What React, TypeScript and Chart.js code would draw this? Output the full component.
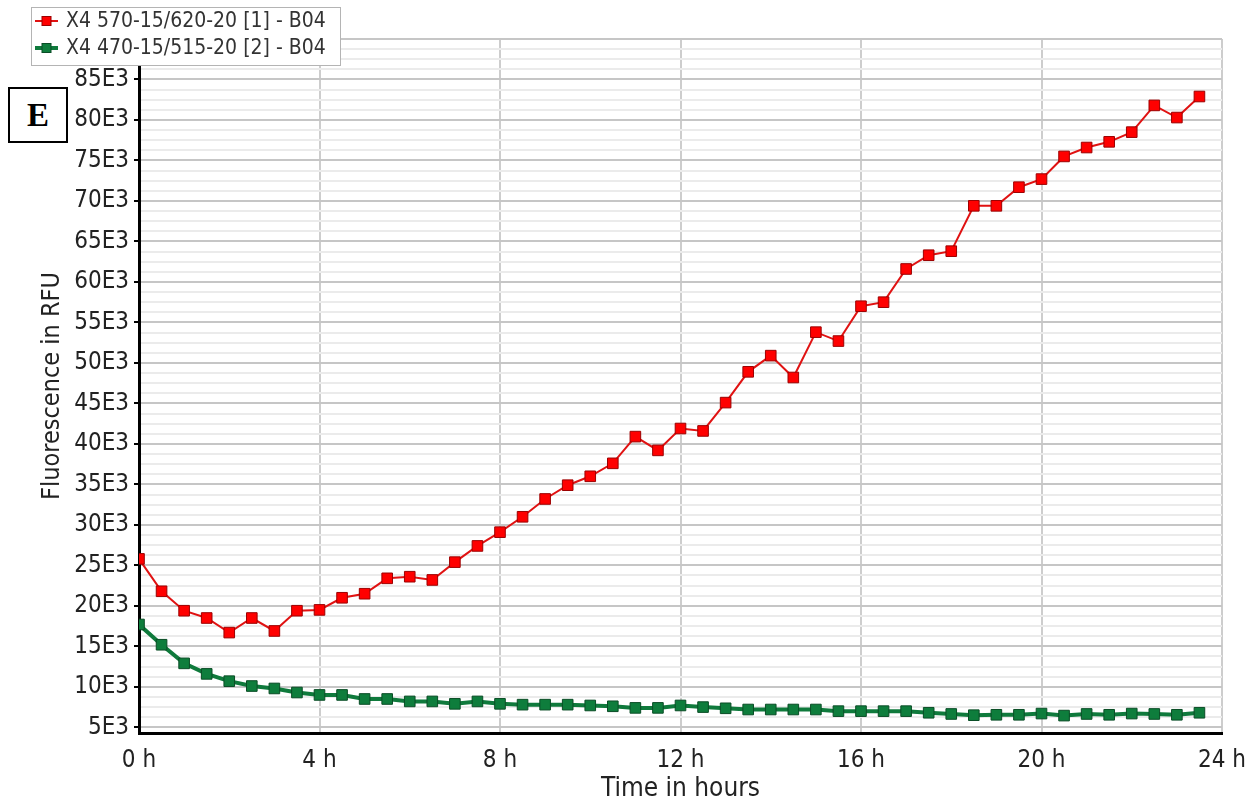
import { useEffect, useRef } from 'react';
import { Chart, registerables } from 'chart.js';

Chart.register(...registerables);

// Measurement times (h)
const hours = [
  0, 0.5, 1, 1.5, 2, 2.5, 3, 3.5, 4, 4.5, 5, 5.5, 6, 6.5, 7, 7.5,
  8, 8.5, 9, 9.5, 10, 10.5, 11, 11.5, 12, 12.5, 13, 13.5, 14, 14.5, 15, 15.5,
  16, 16.5, 17, 17.5, 18, 18.5, 19, 19.5, 20, 20.5, 21, 21.5, 22, 22.5, 23, 23.5,
];

// Channel 1: 570-15/620-20 (RFU)
const redChannel = [
  25800, 21800, 19400, 18500, 16700, 18500, 16900, 19400, 19500, 21000, 21500, 23400, 23600, 23200, 25400, 27400,
  29100, 31000, 33200, 34900, 36000, 37600, 40900, 39200, 41900, 41600, 45100, 48900, 50900, 48200, 53800, 52700,
  57000, 57500, 61600, 63300, 63800, 69400, 69400, 71700, 72700, 75500, 76600, 77300, 78500, 81800, 80300, 82900,
];

// Channel 2: 470-15/515-20 (RFU)
const greenChannel = [
  17700, 15200, 12900, 11600, 10700, 10100, 9800, 9300, 9000, 9000, 8500, 8500, 8200, 8200, 7900, 8200,
  7900, 7800, 7800, 7800, 7700, 7600, 7400, 7400, 7700, 7500, 7350, 7200, 7200, 7200, 7200, 7000,
  7000, 7000, 7000, 6800, 6650, 6500, 6550, 6550, 6700, 6450, 6650, 6550, 6700, 6650, 6550, 6800,
];

const seriesLabels = ['X4 570-15/620-20 [1] - B04', 'X4 470-15/515-20 [2] - B04'];

const xTickStep = 4;
const yFirstTick = 5000;
const yLastTick = 90000;
const yMajorStep = 5000;
const yMinorStep = 1250;

const FONT = '"DejaVu Sans Condensed", "Liberation Sans Narrow", "DejaVu Sans", sans-serif';

const isMajor = (v: number) => Math.abs(v % yMajorStep) < 1e-6;

// Overlaid legend box in the top-left corner, drawn from the dataset styles
const overlayLegend = {
  id: 'overlayLegend',
  afterDraw(chart: any) {
    const ctx = chart.ctx as CanvasRenderingContext2D;
    const box = { x: 31.5, y: 7.5, w: 309, h: 58 };
    ctx.save();
    ctx.fillStyle = '#ffffff';
    ctx.fillRect(box.x, box.y, box.w, box.h);
    ctx.strokeStyle = '#b4b4b4';
    ctx.lineWidth = 1;
    ctx.strokeRect(box.x, box.y, box.w, box.h);
    ctx.font = `21px ${FONT}`;
    ctx.textBaseline = 'middle';
    chart.data.datasets.forEach((ds: any, i: number) => {
      const cy = 21 + i * 27;
      ctx.strokeStyle = ds.borderColor;
      ctx.lineWidth = ds.borderWidth;
      ctx.beginPath();
      ctx.moveTo(35, cy);
      ctx.lineTo(58, cy);
      ctx.stroke();
      ctx.fillStyle = ds.pointBackgroundColor;
      ctx.fillRect(42, cy - 4.5, 9, 9);
      ctx.strokeStyle = ds.pointBorderColor;
      ctx.lineWidth = 1;
      ctx.strokeRect(42, cy - 4.5, 9, 9);
      ctx.fillStyle = '#333333';
      ctx.fillText(ds.label, 66, cy + 1);
    });
    ctx.restore();
  },
};

export default function App() {
  const canvasRef = useRef<HTMLCanvasElement | null>(null);

  useEffect(() => {
    if (!canvasRef.current) return;
    const chart = new Chart(canvasRef.current, {
      type: 'line',
      data: {
        datasets: [
          {
            label: seriesLabels[0],
            data: hours.map((h, i) => ({ x: h, y: redChannel[i] })),
            borderColor: '#e01212',
            borderWidth: 2,
            pointStyle: 'rect',
            pointRadius: 7.5,
            pointBackgroundColor: '#ff0000',
            pointBorderColor: '#9c0000',
            pointBorderWidth: 1,
            tension: 0,
          },
          {
            label: seriesLabels[1],
            data: hours.map((h, i) => ({ x: h, y: greenChannel[i] })),
            borderColor: '#0f7a3c',
            borderWidth: 4,
            pointStyle: 'rect',
            pointRadius: 7.5,
            pointBackgroundColor: '#0e7d3c',
            pointBorderColor: '#0a4d26',
            pointBorderWidth: 1,
            tension: 0,
          },
        ],
      },
      options: {
        animation: false,
        responsive: false,
        layout: { padding: { top: 39, right: 34, left: 0, bottom: 0 } },
        plugins: {
          legend: { display: false },
          tooltip: { enabled: false },
        },
        scales: {
          x: {
            type: 'linear',
            min: 0,
            max: 24,
            afterFit: (scale: any) => {
              scale.height = 72;
              scale.paddingLeft = 0;
              scale.paddingRight = 0;
            },
            ticks: {
              stepSize: xTickStep,
              callback: (v: any) => `${v} h`,
              color: '#222222',
              font: { family: FONT, size: 24 },
              padding: 13,
              maxRotation: 0,
            },
            grid: {
              color: '#cdcdcd',
              lineWidth: 2,
              drawTicks: false,
            },
            border: { color: '#000000', width: 3 },
            title: {
              display: true,
              text: 'Time in hours',
              color: '#222222',
              font: { family: FONT, size: 26 },
              padding: { top: 0, bottom: 0 },
            },
          },
          y: {
            type: 'linear',
            min: 4300,
            max: 90000,
            afterFit: (scale: any) => {
              scale.width = 139;
            },
            afterBuildTicks: (scale: any) => {
              const ticks: { value: number }[] = [];
              for (let v = yFirstTick; v <= yLastTick; v += yMinorStep) ticks.push({ value: v });
              scale.ticks = ticks;
            },
            ticks: {
              autoSkip: false,
              callback: (v: any) => (isMajor(Number(v)) ? `${Math.round(Number(v) / 1000)}E3` : ''),
              color: '#222222',
              font: { family: FONT, size: 24 },
              padding: 5,
            },
            grid: {
              color: (c: any) => (isMajor(c.tick.value) ? '#c6c6c6' : '#ebebeb'),
              lineWidth: 2,
              tickLength: 5,
              tickColor: (c: any) => (isMajor(c.tick.value) ? '#000000' : 'rgba(0,0,0,0)'),
            },
            border: { color: '#000000', width: 3 },
            title: {
              display: true,
              text: 'Fluorescence in RFU',
              color: '#222222',
              font: { family: FONT, size: 25 },
              padding: { top: 37, bottom: 0 },
            },
          },
        },
      },
      plugins: [overlayLegend],
    });
    return () => chart.destroy();
  }, []);

  return (
    <div
      style={{
        position: 'fixed',
        left: 0,
        top: 0,
        width: 1256,
        height: 805,
        background: '#ffffff',
      }}
    >
      <canvas ref={canvasRef} width={1256} height={805} style={{ width: 1256, height: 805, display: 'block' }} />
      <div
        style={{
          position: 'absolute',
          left: 8,
          top: 87,
          width: 56,
          height: 52,
          border: '2px solid #000',
          background: '#fff',
          display: 'flex',
          alignItems: 'center',
          justifyContent: 'center',
          fontFamily: '"Liberation Serif", "DejaVu Serif", serif',
          fontWeight: 'bold',
          fontSize: 33,
          color: '#000',
        }}
      >
        E
      </div>
    </div>
  );
}
